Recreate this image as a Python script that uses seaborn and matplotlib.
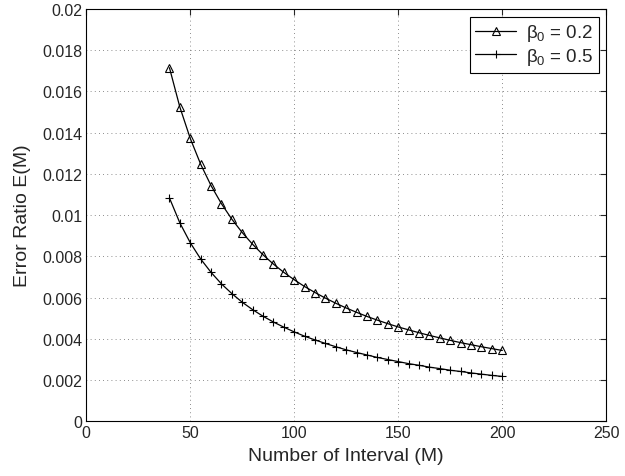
import numpy as np
import pandas as pd
import matplotlib
matplotlib.use('Agg')
import matplotlib.pyplot as plt
import seaborn as sns

# interval counts M
M = list(range(40, 201, 5))

# error ratio for beta_0 = 0.2
err_02 = [0.01715, 0.01524, 0.01372, 0.01247, 0.01143, 0.01055, 0.00980,
          0.00915, 0.00858, 0.00807, 0.00762, 0.00722, 0.00686, 0.00653,
          0.00624, 0.00597, 0.00572, 0.00549, 0.00528, 0.00508, 0.00490,
          0.00473, 0.00457, 0.00443, 0.00429, 0.00416, 0.00404, 0.00392,
          0.00381, 0.00371, 0.00361, 0.00352, 0.00343]

# error ratio for beta_0 = 0.5
err_05 = [0.01083, 0.00962, 0.00866, 0.00787, 0.00722, 0.00666, 0.00619,
          0.00577, 0.00541, 0.00509, 0.00481, 0.00456, 0.00433, 0.00412,
          0.00394, 0.00377, 0.00361, 0.00346, 0.00333, 0.00321, 0.00309,
          0.00299, 0.00289, 0.00279, 0.00271, 0.00262, 0.00255, 0.00247,
          0.00241, 0.00234, 0.00228, 0.00222, 0.00217]

labels = [r'$\beta_0$ = 0.2', r'$\beta_0$ = 0.5']

sns.set_style('white')
plt.rcParams['font.family'] = ['Liberation Sans', 'DejaVu Sans']
plt.rcParams['mathtext.fontset'] = 'custom'
plt.rcParams['mathtext.rm'] = 'Liberation Sans'
plt.rcParams['mathtext.it'] = 'Liberation Sans'
plt.rcParams['mathtext.bf'] = 'Liberation Sans'

df = pd.DataFrame({'M': M, 'e02': err_02, 'e05': err_05})

fig = plt.figure(figsize=(6.25, 4.77), dpi=100)
ax = fig.add_axes([0.138, 0.115, 0.832, 0.864])

sns.lineplot(data=df, x='M', y='e02', ax=ax, color='k', lw=0.9,
             marker='^', markersize=6, markerfacecolor='none',
             markeredgecolor='k', markeredgewidth=0.8, label=labels[0])
sns.lineplot(data=df, x='M', y='e05', ax=ax, color='k', lw=0.9,
             marker='+', markersize=6, markeredgecolor='k',
             markeredgewidth=0.8, label=labels[1])

ax.set_xlim(0, 250)
ax.set_ylim(0, 0.02)
ax.set_xticks(np.arange(0, 251, 50))
ax.set_yticks(np.arange(0, 0.0201, 0.002))
ax.set_yticklabels(['0', '0.002', '0.004', '0.006', '0.008', '0.01',
                    '0.012', '0.014', '0.016', '0.018', '0.02'])
ax.grid(True, color='k', linestyle=(0, (1, 4)), linewidth=0.6, alpha=0.6)
ax.tick_params(direction='in', top=True, right=True, length=4,
               labelsize=11.5, width=0.8, pad=3)
for s in ax.spines.values():
    s.set_color('k')
    s.set_linewidth(0.8)

ax.set_xlabel('Number of Interval (M)', fontsize=14, labelpad=5)
ax.set_ylabel('Error Ratio E(M)', fontsize=14, labelpad=8)

leg = ax.legend(loc='upper right', fontsize=13.5, frameon=True, fancybox=False,
                edgecolor='k', framealpha=1, borderaxespad=0.4,
                handlelength=2.2, labelspacing=0.15, borderpad=0.3,
                handletextpad=0.5)
leg.get_frame().set_linewidth(0.8)

fig.savefig('out.png', dpi=100)
